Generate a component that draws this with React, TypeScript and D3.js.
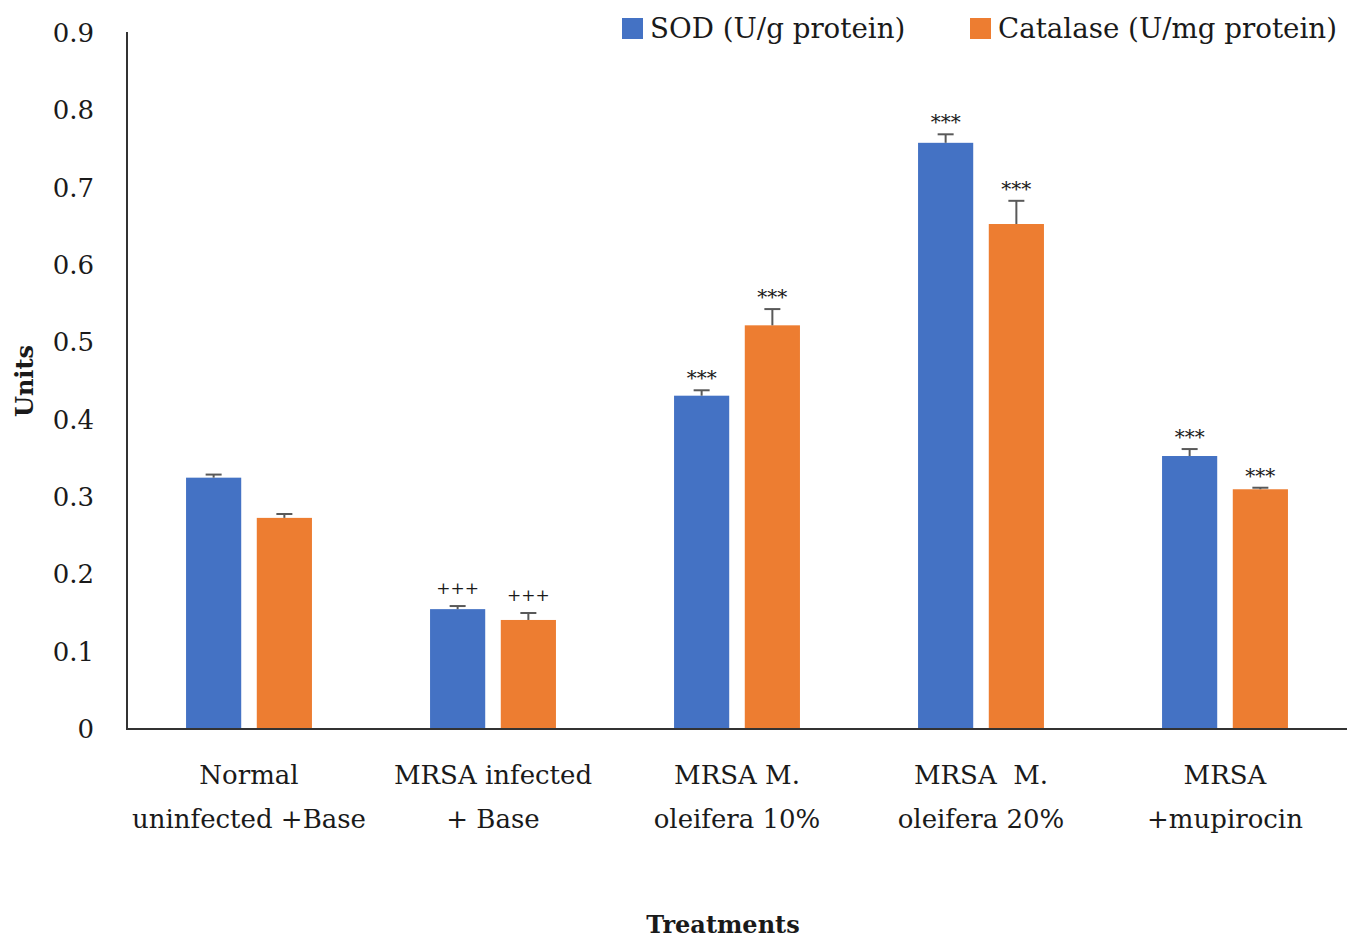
import React from "react";
import * as d3 from "d3";

const categories: string[][] = [
  ["Normal", "uninfected +Base"],
  ["MRSA infected", "+ Base"],
  ["MRSA M.", "oleifera 10%"],
  ["MRSA  M.", "oleifera 20%"],
  ["MRSA", "+mupirocin"],
];
const seriesNames = ["SOD (U/g protein)", "Catalase (U/mg protein)"];
const sodValues = [0.325, 0.155, 0.431, 0.758, 0.353];
const sodErrors = [0.004, 0.004, 0.007, 0.011, 0.009];
const catalaseValues = [0.273, 0.141, 0.522, 0.653, 0.310];
const catalaseErrors = [0.005, 0.009, 0.021, 0.030, 0.002];
const sodMarks = ["", "+++", "***", "***", "***"];
const catalaseMarks = ["", "+++", "***", "***", "***"];
const yTicks = [0, 0.1, 0.2, 0.3, 0.4, 0.5, 0.6, 0.7, 0.8, 0.9];
const yTickLabels = ["0", "0.1", "0.2", "0.3", "0.4", "0.5", "0.6", "0.7", "0.8", "0.9"];

const COLORS = ["#4472C4", "#ED7D31"];
const FONT = "'DejaVu Serif', serif";

export default function App() {
  const W = 1355, H = 942;
  const left = 127, right = 1347, top = 33, bottom = 729;

  const keys = categories.map((_, i) => String(i));
  const x0 = d3.scaleBand<string>().domain(keys).range([left, right]).paddingInner(0.484).paddingOuter(0.242);
  const x1 = d3.scaleBand<string>().domain(["0", "1"]).range([0, x0.bandwidth()]).paddingInner(0.22);
  const y = d3.scaleLinear().domain([0, 0.9]).range([bottom, top]);

  const series = [
    { values: sodValues, errors: sodErrors, marks: sodMarks },
    { values: catalaseValues, errors: catalaseErrors, marks: catalaseMarks },
  ];

  return (
    <svg width={W} height={H} style={{ position: "absolute", left: 0, top: 0, background: "#fff" }} fontFamily={FONT}>
      <rect x={0} y={0} width={W} height={H} fill="#fff" />
      {/* y tick labels */}
      {yTicks.map((t, i) => (
        <text key={i} x={94} y={y(t)} dy="0.35em" textAnchor="end" fontSize={26} fill="#1a1a1a">
          {yTickLabels[i]}
        </text>
      ))}
      {/* bars */}
      {series.map((s, si) =>
        keys.map((k, ci) => {
          const bx = (x0(k) as number) + (x1(String(si)) as number);
          const bw = x1.bandwidth();
          const v = s.values[ci];
          const e = s.errors[ci];
          const cx = bx + bw / 2;
          return (
            <g key={`${si}-${ci}`}>
              <rect x={bx} y={y(v)} width={bw} height={y(0) - y(v)} fill={COLORS[si]} />
              <line x1={cx} x2={cx} y1={y(v)} y2={y(v + e)} stroke="#595959" strokeWidth={2} />
              <line x1={cx - 8} x2={cx + 8} y1={y(v + e)} y2={y(v + e)} stroke="#595959" strokeWidth={2} />
              {s.marks[ci] && (
                <text
                  x={cx}
                  y={y(v + e) - (s.marks[ci] === "+++" ? 12 : 5)}
                  textAnchor="middle"
                  fontSize={s.marks[ci] === "+++" ? 17 : 20}
                  fill="#1a1a1a"
                >
                  {s.marks[ci]}
                </text>
              )}
            </g>
          );
        })
      )}
      {/* axes */}
      <line x1={left} x2={left} y1={top - 1} y2={bottom + 1} stroke="#333" strokeWidth={2} />
      <line x1={left} x2={right} y1={bottom} y2={bottom} stroke="#333" strokeWidth={2} />
      {/* x category labels */}
      {categories.map((lines, ci) => {
        const cx = (x0(String(ci)) as number) + x0.bandwidth() / 2;
        return (
          <text key={ci} textAnchor="middle" fontSize={26} fill="#1a1a1a" style={{ whiteSpace: "pre" }}>
            {lines.map((ln, li) => (
              <tspan key={li} x={cx} y={784 + li * 44}>
                {ln}
              </tspan>
            ))}
          </text>
        );
      })}
      {/* axis titles */}
      <text x={723} y={933} textAnchor="middle" fontSize={24} fontWeight="bold" fill="#1a1a1a">
        Treatments
      </text>
      <text transform={`translate(33, 381) rotate(-90)`} textAnchor="middle" fontSize={24} fontWeight="bold" fill="#1a1a1a">
        Units
      </text>
      {/* legend */}
      {seriesNames.map((name, si) => {
        const lx = si === 0 ? 622 : 970;
        return (
          <g key={si}>
            <rect x={lx} y={18} width={21} height={21} fill={COLORS[si]} />
            <text x={lx + 28} y={38} fontSize={27.7} fill="#1a1a1a">
              {name}
            </text>
          </g>
        );
      })}
    </svg>
  );
}
